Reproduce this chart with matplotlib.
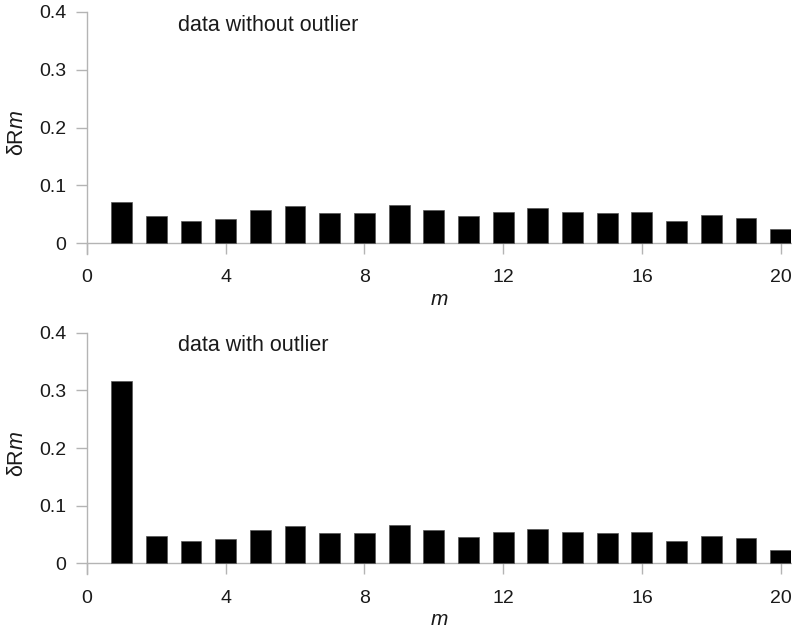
import matplotlib
matplotlib.use("Agg")
import matplotlib.pyplot as plt
import numpy as np

plt.rcParams['font.family'] = ['Liberation Sans', 'DejaVu Sans']
plt.rcParams['mathtext.fontset'] = 'custom'
plt.rcParams['mathtext.it'] = 'Liberation Sans:italic'
plt.rcParams['mathtext.rm'] = 'Liberation Sans'

m = list(range(1, 21))
without_outlier = [0.071, 0.047, 0.038, 0.042, 0.057, 0.064, 0.052, 0.052, 0.066, 0.057,
                   0.046, 0.054, 0.060, 0.054, 0.052, 0.054, 0.039, 0.048, 0.044, 0.024]
with_outlier = [0.317, 0.047, 0.038, 0.042, 0.057, 0.064, 0.052, 0.052, 0.066, 0.057,
                0.046, 0.054, 0.060, 0.054, 0.052, 0.054, 0.039, 0.048, 0.044, 0.024]
xticks = [0, 4, 8, 12, 16, 20]
yticks = [0, 0.1, 0.2, 0.3, 0.4]
yticklabels = ['0', '0.1', '0.2', '0.3', '0.4']
titles = ['data without outlier', 'data with outlier']

W, H = 792, 630
fig = plt.figure(figsize=(W / 100, H / 100), dpi=100)
axcol = '#b4b4b4'
txtcol = '#1a1a1a'

def make_ax(top_px, bottom_px):
    left, right = 87, 791
    return fig.add_axes([left / W, 1 - bottom_px / H, (right - left) / W, (bottom_px - top_px) / H])

ax1 = make_ax(12, 254)
ax2 = make_ax(332.7, 574.3)

for ax, vals, title in [(ax1, without_outlier, titles[0]), (ax2, with_outlier, titles[1])]:
    ax.bar(m, vals, width=0.6, color='black', edgecolor='#555555', linewidth=0.5, zorder=3)
    ax.set_xlim(0, 20.3)
    ax.set_ylim(-0.019, 0.4)
    for s in ['top', 'right']:
        ax.spines[s].set_visible(False)
    ax.spines['bottom'].set_position(('data', 0))
    ax.spines['bottom'].set_color(axcol)
    ax.spines['left'].set_color(axcol)
    ax.spines['bottom'].set_linewidth(1.0)
    ax.spines['left'].set_linewidth(1.0)
    ax.set_xticks(xticks)
    ax.set_xticklabels([str(t) for t in xticks])
    ax.set_yticks(yticks)
    ax.set_yticklabels(yticklabels)
    ax.tick_params(axis='both', direction='out', length=8, width=1.0, color=axcol,
                   labelsize=14, labelcolor=txtcol)
    ax.tick_params(axis='x', pad=11)
    ax.tick_params(axis='y', pad=7)
    ax.set_xlabel(r'$\mathit{m}$', fontsize=15, color=txtcol, labelpad=2.5)
    ax.set_ylabel(r'δR$\mathit{m}$', fontsize=15.5, color=txtcol, labelpad=8)
    ax.text(2.62, 0.377, title, fontsize=15.5, color=txtcol, ha='left', va='center')
    ax.patch.set_alpha(0)

fig.savefig('out.png', dpi=100, facecolor='white')
